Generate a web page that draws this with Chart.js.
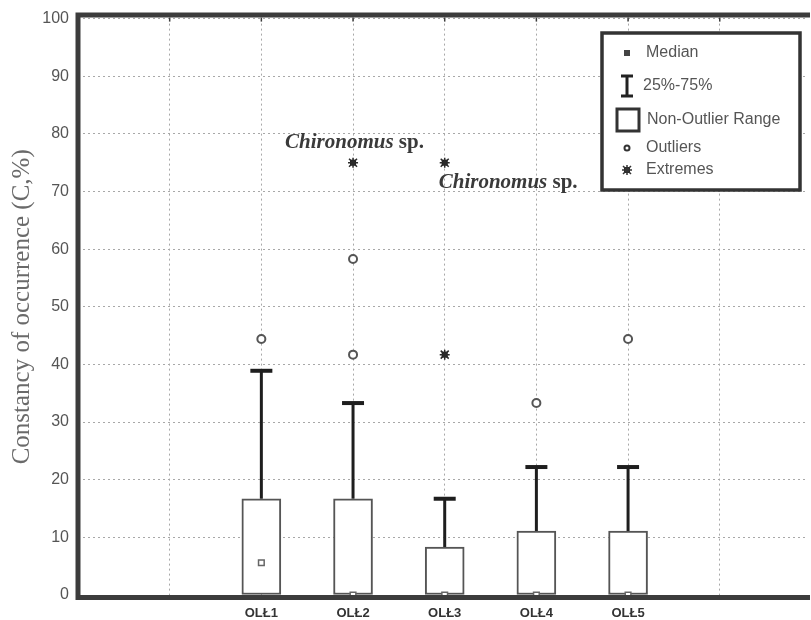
<!DOCTYPE html>
<html>
<head>
<meta charset="utf-8">
<script src="https://cdn.jsdelivr.net/npm/chart.js@4/dist/chart.umd.min.js"></script>
<style>
  html, body { margin: 0; padding: 0; background: #fff; overflow: hidden; }
  #wrap { width: 811px; height: 620px; }
</style>
</head>
<body>
<div id="wrap"><canvas id="chart" width="811" height="620"></canvas></div>
<script>
// --- data ---
const categories = ['OLŁ1', 'OLŁ2', 'OLŁ3', 'OLŁ4', 'OLŁ5'];
const catPos = [2, 3, 4, 5, 6];               // slot on the x axis (slots 0..7, 1 and 7 empty)
const boxTop = [16.7, 16.7, 8.3, 11.1, 11.1];  // box drawn from 0
const boxBottom = [0, 0, 0, 0, 0];
const whiskerTop = [38.9, 33.3, 16.7, 22.2, 22.2];
const medians = [5.6, 0, 0, 0, 0];
const outliers = [[44.4], [41.7, 58.3], [], [33.3], [44.4]];
const extremes = [[], [75], [41.7, 75], [], []];
const yTicks = [0, 10, 20, 30, 40, 50, 60, 70, 80, 90, 100];
const notes = [
    { cat: 1, y: 75, text: 'Chironomus', tail: ' sp.', dx: -68, dy: -15 },
    { cat: 2, y: 75, text: 'Chironomus', tail: ' sp.', dx: -6, dy: 25 }
];
const legendItems = ['Median', '25%-75%', 'Non-Outlier Range', 'Outliers', 'Extremes'];

// datasets built from the arrays
const boxData = categories.map((c, i) => ({ x: catPos[i], y: [boxBottom[i], boxTop[i]] }));
const medianData = categories.map((c, i) => ({ x: catPos[i], y: medians[i] }));
const outlierData = [];
outliers.forEach((arr, i) => arr.forEach(v => outlierData.push({ x: catPos[i], y: v })));
const extremeData = [];
extremes.forEach((arr, i) => arr.forEach(v => extremeData.push({ x: catPos[i], y: v })));

function drawStar(ctx, x, y, r) {
    ctx.fillRect(x - r * 0.6, y - r * 0.6, r * 1.2, r * 1.2);
    ctx.beginPath();
    ctx.moveTo(x - r, y); ctx.lineTo(x + r, y);
    ctx.moveTo(x, y - r); ctx.lineTo(x, y + r);
    ctx.moveTo(x - r * 0.8, y - r * 0.8); ctx.lineTo(x + r * 0.8, y + r * 0.8);
    ctx.moveTo(x - r * 0.8, y + r * 0.8); ctx.lineTo(x + r * 0.8, y - r * 0.8);
    ctx.stroke();
}

// whiskers, frame, notes and legend
const boxPlotExtras = {
    id: 'boxPlotExtras',
    beforeDatasetsDraw(chart) {
        const { ctx } = chart;
        const xs = chart.scales.x, ys = chart.scales.y;
        ctx.save();
        ctx.strokeStyle = '#1e1e1e';
        categories.forEach((c, i) => {
            const x = xs.getPixelForValue(catPos[i]);
            const y1 = ys.getPixelForValue(boxTop[i]);
            const y2 = ys.getPixelForValue(whiskerTop[i]);
            ctx.lineWidth = 3;
            ctx.beginPath();
            ctx.moveTo(x, y1);
            ctx.lineTo(x, y2);
            ctx.stroke();
            ctx.lineWidth = 4;
            ctx.beginPath();
            ctx.moveTo(x - 11, y2);
            ctx.lineTo(x + 11, y2);
            ctx.stroke();
        });
        ctx.restore();
    },
    afterDatasetsDraw(chart) {
        const { ctx } = chart;
        const xs = chart.scales.x, ys = chart.scales.y;
        ctx.save();
        ctx.fillStyle = '#1a1a1a';
        ctx.strokeStyle = '#2a2a2a';
        ctx.lineWidth = 1.5;
        extremeData.forEach(p => drawStar(ctx, xs.getPixelForValue(p.x), ys.getPixelForValue(p.y), 5));
        ctx.restore();
    },
    afterDraw(chart) {
        const { ctx, chartArea: a } = chart;
        const xs = chart.scales.x, ys = chart.scales.y;
        ctx.save();

        // annotations
        ctx.fillStyle = '#3a3a3a';
        ctx.textBaseline = 'alphabetic';
        notes.forEach(n => {
            const x = xs.getPixelForValue(catPos[n.cat]) + n.dx;
            const y = ys.getPixelForValue(n.y) + n.dy;
            ctx.font = 'italic bold 21px "Liberation Serif"';
            ctx.fillText(n.text, x, y);
            const w = ctx.measureText(n.text).width;
            ctx.font = 'bold 21px "Liberation Serif"';
            ctx.fillText(n.tail, x + w, y);
        });

        // frame: left, top, bottom
        ctx.strokeStyle = '#3c3c3c';
        ctx.lineWidth = 5;
        ctx.beginPath();
        ctx.moveTo(a.right + 5, a.top - 3.5);
        ctx.lineTo(a.left, a.top - 3.5);
        ctx.lineTo(a.left, a.bottom + 2.5);
        ctx.lineTo(a.right + 5, a.bottom + 2.5);
        ctx.stroke();
        // small ticks under the top frame
        ctx.lineWidth = 1.5;
        for (let v = 1; v <= 7; v++) {
            const x = xs.getPixelForValue(v);
            ctx.beginPath();
            ctx.moveTo(x, a.top - 1);
            ctx.lineTo(x, a.top + 3);
            ctx.stroke();
        }

        // legend
        const lx = 602, ly = 33, lw = 198, lh = 157;
        ctx.fillStyle = '#fff';
        ctx.fillRect(lx, ly, lw, lh);
        ctx.strokeStyle = '#333';
        ctx.lineWidth = 3.5;
        ctx.strokeRect(lx, ly, lw, lh);
        const ix = 627;
        const rows = [53, 86, 120, 148, 170];
        // median icon
        ctx.fillStyle = '#444';
        ctx.fillRect(ix - 3, rows[0] - 3, 6, 6);
        // 25-75 icon
        ctx.strokeStyle = '#222';
        ctx.lineWidth = 3;
        ctx.beginPath();
        ctx.moveTo(ix, rows[1] - 10); ctx.lineTo(ix, rows[1] + 10);
        ctx.moveTo(ix - 6, rows[1] - 10); ctx.lineTo(ix + 6, rows[1] - 10);
        ctx.moveTo(ix - 6, rows[1] + 10); ctx.lineTo(ix + 6, rows[1] + 10);
        ctx.stroke();
        // non-outlier icon
        ctx.strokeStyle = '#333';
        ctx.lineWidth = 3;
        ctx.strokeRect(617, rows[2] - 11, 22, 22);
        // outlier icon
        ctx.lineWidth = 2;
        ctx.beginPath();
        ctx.arc(ix, rows[3], 2.5, 0, Math.PI * 2);
        ctx.stroke();
        // extreme icon
        ctx.fillStyle = '#222';
        ctx.lineWidth = 1.5;
        drawStar(ctx, ix, rows[4], 5);
        // legend text
        ctx.fillStyle = '#555';
        ctx.font = '16px "Liberation Sans"';
        ctx.textBaseline = 'middle';
        const tx = [646, 643, 647, 646, 646];
        legendItems.forEach((t, i) => ctx.fillText(t, tx[i], rows[i]));

        ctx.restore();
    }
};

new Chart(document.getElementById('chart'), {
    type: 'bar',
    data: {
        datasets: [
            {
                type: 'scatter',
                label: 'Median',
                data: medianData,
                pointStyle: 'rect',
                pointRadius: 4,
                backgroundColor: '#fff',
                borderColor: '#666',
                borderWidth: 1.5,
                order: 0
            },
            {
                type: 'scatter',
                label: 'Outliers',
                data: outlierData,
                pointStyle: 'circle',
                pointRadius: 4,
                backgroundColor: '#fff',
                borderColor: '#555',
                borderWidth: 2,
                order: 0
            },
            {
                label: 'Box',
                data: boxData,
                backgroundColor: '#fff',
                borderColor: '#555',
                borderWidth: 2,
                borderSkipped: false,
                barThickness: 39,
                order: 1
            }
        ]
    },
    options: {
        responsive: false,
        animation: false,
        layout: { padding: { top: 18, right: 0, bottom: 0, left: 0 } },
        plugins: {
            legend: { display: false },
            tooltip: { enabled: false }
        },
        scales: {
            x: {
                type: 'linear',
                min: 0,
                max: 7.93,
                offset: false,
                afterFit: s => { s.height = 25; },
                grid: {
                    offset: false,
                    color: '#a8a8a8',
                    lineWidth: 1,
                    drawTicks: false
                },
                border: { display: false, dash: [2, 3] },
                ticks: {
                    stepSize: 1,
                    includeBounds: false,
                    autoSkip: false,
                    maxRotation: 0,
                    padding: 11,
                    color: '#333',
                    font: { family: 'Liberation Sans', size: 13, weight: 'bold' },
                    callback: v => {
                        const i = catPos.indexOf(v);
                        return i >= 0 ? categories[i] : '';
                    }
                }
            },
            y: {
                min: 0,
                max: 100,
                afterFit: s => { s.width = 78; },
                afterBuildTicks: s => { s.ticks = yTicks.map(v => ({ value: v })); },
                grid: {
                    color: '#a8a8a8',
                    lineWidth: 1,
                    drawTicks: false
                },
                border: { display: false, dash: [2, 3] },
                ticks: {
                    padding: 9,
                    color: '#555',
                    font: { family: 'Liberation Sans', size: 16 }
                },
                title: {
                    display: true,
                    text: 'Constancy of occurrence (C,%)',
                    color: '#6a6a6a',
                    font: { family: 'Liberation Serif', size: 25 },
                    padding: { top: 7, bottom: 0 }
                }
            }
        }
    },
    plugins: [boxPlotExtras]
});
</script>
</body>
</html>
